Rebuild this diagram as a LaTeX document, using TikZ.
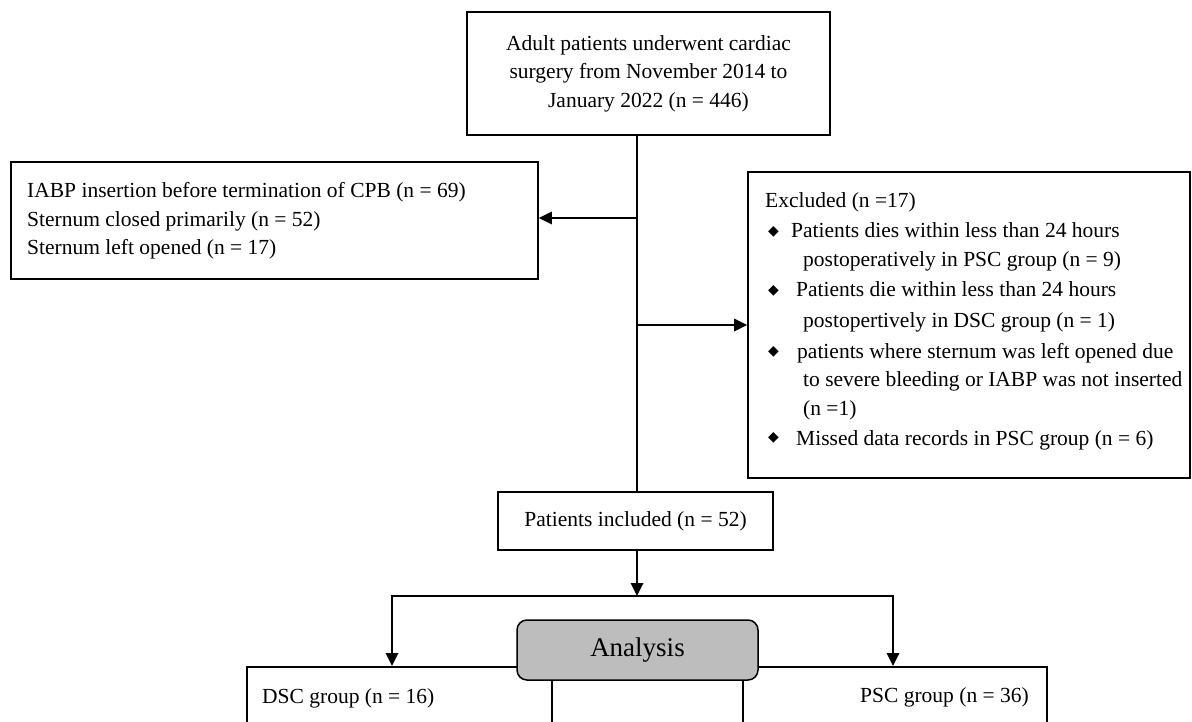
\documentclass[tikz,border=0pt]{standalone}
\usepackage{fontspec}
\setmainfont{Liberation Serif}
\newfontfamily\symfont{DejaVu Sans}
\usetikzlibrary{arrows.meta}
\begin{document}
\begin{tikzpicture}[x=1pt,y=-1pt,
  box/.style={draw,line width=1.8pt,inner sep=0pt,minimum width=#1},
  conn/.style={line width=1.8pt},
  arr/.style={line width=1.8pt,-{Triangle[width=12.5pt,length=13pt]}},
  txt/.style={inner sep=0pt,anchor=base west,font=\fontsize{21.5}{28.5}\selectfont},
  bul/.style={inner sep=0pt,font=\symfont\fontsize{14}{14}\selectfont}]
\useasboundingbox (0,0) rectangle (1192,722);
\clip (0,0) rectangle (1192,722);
% boxes
\node[box=363pt,minimum height=123pt,align=center,font=\fontsize{21.5}{28.5}\selectfont] (top) at (648.5,73.5)
  {Adult patients underwent cardiac\\surgery from November 2014 to\\January 2022 (n = 446)};
\node[box=527pt,minimum height=117pt] (left) at (274.5,220.5) {};
\node[txt] (l1) at (27,198) {IABP insertion before termination of CPB (n = 69)};
\node[txt] (l2) at (27,227) {Sternum closed primarily (n = 52)};
\node[txt] (l3) at (27,255) {Sternum left opened (n = 17)};
\node[box=442pt,minimum height=306pt] (right) at (969,325) {};
\node[txt] (r0) at (765,208) {Excluded (n =17)};
\node[bul] (b1) at (773.5,232) {◆};
\node[txt] (r1) at (791,238) {Patients dies within less than 24 hours};
\node[txt] (r2) at (803,267) {postoperatively in PSC group (n = 9)};
\node[bul] (b2) at (773.5,291) {◆};
\node[txt] (r3) at (796,297) {Patients die within less than 24 hours};
\node[txt] (r4) at (803,327) {postopertively in DSC group (n = 1)};
\node[bul] (b3) at (773.5,352) {◆};
\node[txt] (r5) at (797,358) {patients where sternum was left opened due};
\node[txt] (r6) at (803,386) {to severe bleeding or IABP was not inserted};
\node[txt] (r7) at (803,415) {(n =1)};
\node[bul] (b4) at (773.5,438) {◆};
\node[txt] (r8) at (796,445) {Missed data records in PSC group (n = 6)};
\node[box=275pt,minimum height=58pt,font=\fontsize{21.5}{28.5}\selectfont] (inc) at (635.5,521) {Patients included (n = 52)};
% bottom boxes
\node[draw,line width=1.5pt,minimum width=305pt,minimum height=140pt,inner sep=0pt,anchor=north west] (dsc) at (246,666) {};
\node[draw,line width=1.5pt,minimum width=304pt,minimum height=140pt,inner sep=0pt,anchor=north west] (psc) at (742,666) {};
\node[draw,line width=1.5pt,fill=black!26,rounded corners=10pt,minimum width=241pt,minimum height=60pt,inner sep=0pt,font=\fontsize{27}{32}\selectfont] (ana) at (637.5,650) {Analysis};
\node[txt] (dt) at (262,703) {DSC group (n = 16)};
\node[txt,anchor=base east] (pt) at (1029,702) {PSC group (n = 36)};
% connectors
\coordinate (t0) at (637,135);
\coordinate (j1) at (637,218);
\coordinate (j2) at (637,325);
\coordinate (sp) at (637,596);
\coordinate (dscin) at (392,666);
\coordinate (pscin) at (893,666);
\draw[conn] (t0) -- (t0 |- inc.north);
\draw[arr] (j1) -- (j1 -| left.east);
\draw[arr] (j2) -- (j2 -| right.west);
\draw[arr] (inc.south -| sp) -- (sp);
\draw[arr] (sp) -| (dscin);
\draw[arr] (sp) -| (pscin);
\end{tikzpicture}
\end{document}
